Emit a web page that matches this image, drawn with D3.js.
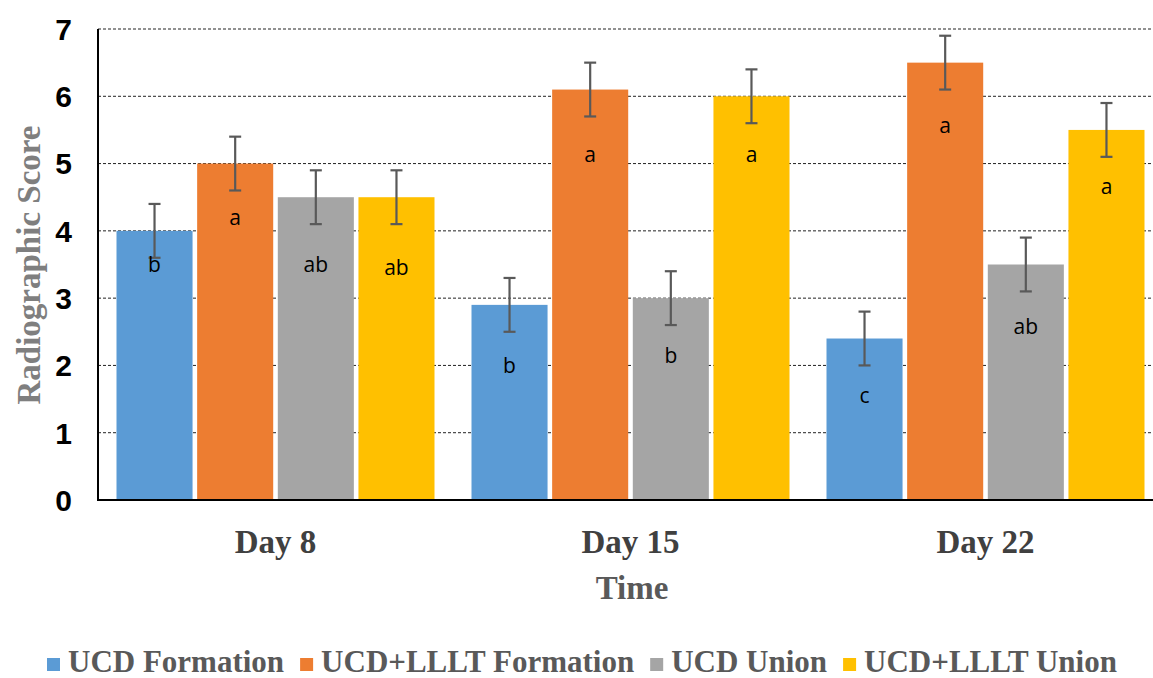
<!DOCTYPE html>
<html>
<head>
<meta charset="utf-8">
<script src="https://cdn.jsdelivr.net/npm/d3@7"></script>
<style>
  body { margin: 0; background: #fff; }
</style>
</head>
<body>
<div id="chart"></div>
<script>
// chart data
const days = ["Day 8", "Day 15", "Day 22"];
const seriesNames = ["UCD Formation", "UCD+LLLT Formation", "UCD Union", "UCD+LLLT Union"];
const colors = ["#5b9bd5", "#ed7d31", "#a5a5a5", "#ffc000"];
const values = [
  [4.0, 5.0, 4.5, 4.5],
  [2.9, 6.1, 3.0, 6.0],
  [2.4, 6.5, 3.5, 5.5]
];
const errors = [
  [0.4, 0.4, 0.4, 0.4],
  [0.4, 0.4, 0.4, 0.4],
  [0.4, 0.4, 0.4, 0.4]
];
const letters = [
  ["b", "a", "ab", "ab"],
  ["b", "a", "b", "a"],
  ["c", "a", "ab", "a"]
];
// where each letter sits, in score units
const letterAt = [
  [3.5, 4.2, 3.5, 3.45],
  [2.0, 5.13, 2.14, 5.13],
  [1.55, 5.57, 2.58, 4.65]
];
const yTicks = [0, 1, 2, 3, 4, 5, 6, 7];

const width = 1153, height = 678;
const margin = { top: 29, left: 98, bottom: 178 };
const plotRight = 1163;

const svg = d3.select("#chart").append("svg")
  .attr("width", width)
  .attr("height", height);

const x0 = d3.scaleBand()
  .domain(days)
  .range([margin.left, plotRight])
  .padding(0);

const x1 = d3.scaleBand()
  .domain(d3.range(seriesNames.length))
  .range([18.5, x0.bandwidth() - 18.5])
  .paddingInner(0.057);

const y = d3.scaleLinear()
  .domain([0, 7])
  .range([height - margin.bottom, margin.top]);

// dashed gridlines
svg.append("g")
  .selectAll("line")
  .data(yTicks.filter(d => d > 0))
  .join("line")
  .attr("x1", margin.left)
  .attr("x2", width)
  .attr("y1", d => y(d))
  .attr("y2", d => y(d))
  .attr("stroke", "#222")
  .attr("stroke-width", 1)
  .attr("stroke-dasharray", "3,2");

// bars
const groups = svg.append("g")
  .selectAll("g")
  .data(days)
  .join("g")
  .attr("transform", d => `translate(${x0(d)},0)`);

groups.selectAll("rect")
  .data((d, i) => values[i].map((v, j) => ({ v, j })))
  .join("rect")
  .attr("x", d => x1(d.j))
  .attr("y", d => y(d.v))
  .attr("width", x1.bandwidth())
  .attr("height", d => y(0) - y(d.v))
  .attr("fill", d => colors[d.j]);

// error bars + letters
groups.each(function(day, i) {
  const g = d3.select(this);
  values[i].forEach((v, j) => {
    const cx = x1(j) + x1.bandwidth() / 2;
    const e = errors[i][j];
    const eb = g.append("g")
      .attr("stroke", "#595959")
      .attr("stroke-width", 2.2);
    eb.append("line").attr("x1", cx).attr("x2", cx).attr("y1", y(v + e)).attr("y2", y(v - e));
    eb.append("line").attr("x1", cx - 6).attr("x2", cx + 6).attr("y1", y(v + e)).attr("y2", y(v + e));
    eb.append("line").attr("x1", cx - 6).attr("x2", cx + 6).attr("y1", y(v - e)).attr("y2", y(v - e));
    g.append("text")
      .attr("x", cx)
      .attr("y", y(letterAt[i][j]))
      .attr("dy", "0.35em")
      .attr("text-anchor", "middle")
      .attr("font-family", "'Open Sans', sans-serif")
      .attr("font-size", 21)
      .attr("fill", "#000")
      .text(letters[i][j]);
  });
});

// axes lines
svg.append("line")
  .attr("x1", margin.left).attr("x2", margin.left)
  .attr("y1", y(7)).attr("y2", y(0) + 1)
  .attr("stroke", "#000").attr("stroke-width", 2);
svg.append("line")
  .attr("x1", margin.left - 1).attr("x2", width)
  .attr("y1", y(0)).attr("y2", y(0))
  .attr("stroke", "#000").attr("stroke-width", 2.2);

// y tick labels
svg.append("g")
  .selectAll("text")
  .data(yTicks)
  .join("text")
  .attr("x", 72)
  .attr("y", d => y(d))
  .attr("dy", "0.36em")
  .attr("text-anchor", "end")
  .attr("font-family", "'Liberation Sans', Arial, sans-serif")
  .attr("font-weight", "bold")
  .attr("font-size", 30)
  .attr("fill", "#000")
  .text(d => d);

// x category labels
svg.append("g")
  .selectAll("text")
  .data(days)
  .join("text")
  .attr("x", d => x0(d) + x0.bandwidth() / 2)
  .attr("y", 553)
  .attr("text-anchor", "middle")
  .attr("font-family", "'Liberation Serif', 'Times New Roman', serif")
  .attr("font-weight", "bold")
  .attr("font-size", 33)
  .attr("fill", "#404040")
  .text(d => d);

// axis titles
svg.append("text")
  .attr("x", 632)
  .attr("y", 599)
  .attr("text-anchor", "middle")
  .attr("font-family", "'Liberation Serif', 'Times New Roman', serif")
  .attr("font-weight", "bold")
  .attr("font-size", 33)
  .attr("fill", "#595959")
  .text("Time");

svg.append("text")
  .attr("transform", "translate(40,265) rotate(-90)")
  .attr("text-anchor", "middle")
  .attr("font-family", "'Liberation Serif', 'Times New Roman', serif")
  .attr("font-weight", "bold")
  .attr("font-size", 33)
  .attr("fill", "#7f7f7f")
  .text("Radiographic Score");

// legend
const legend = svg.append("g");
let lx = 47;
seriesNames.forEach((name, i) => {
  legend.append("rect")
    .attr("x", lx)
    .attr("y", 658)
    .attr("width", 13)
    .attr("height", 13)
    .attr("fill", colors[i]);
  const t = legend.append("text")
    .attr("x", lx + 21)
    .attr("y", 672)
    .attr("font-family", "'Liberation Serif', 'Times New Roman', serif")
    .attr("font-weight", "bold")
    .attr("font-size", 31)
    .attr("fill", "#595959")
    .text(name);
  lx += 21 + t.node().getComputedTextLength() + 16;
});
</script>
</body>
</html>
